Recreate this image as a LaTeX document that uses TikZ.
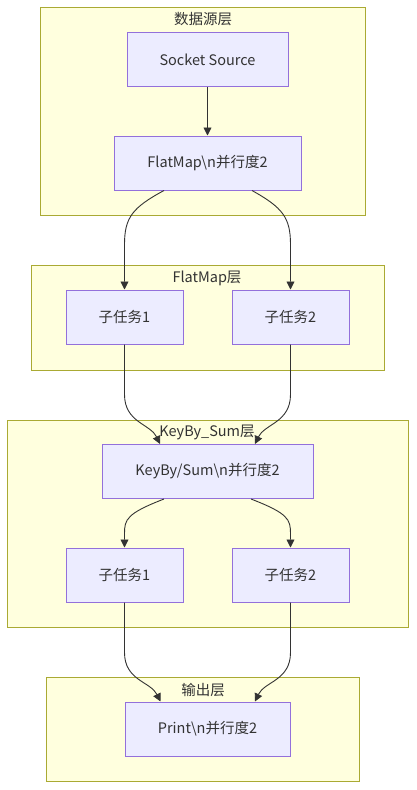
\documentclass[tikz,border=0pt]{standalone}
\usepackage{fontspec}
\setmainfont{Noto Sans CJK SC}
\usetikzlibrary{arrows.meta,calc}
\definecolor{clfill}{HTML}{FFFFDE}
\definecolor{clline}{HTML}{AAAA33}
\definecolor{ndfill}{HTML}{ECECFF}
\definecolor{ndline}{HTML}{9370DB}
\definecolor{txt}{HTML}{333333}
\tikzset{
  cluster/.style={draw=clline,fill=clfill,line width=1pt},
  cltitle/.style={text=txt,font=\fontsize{14.5}{17}\selectfont,inner sep=0pt},
  box/.style={draw=ndline,fill=ndfill,line width=1pt,text=txt,font=\fontsize{14.5}{17}\selectfont,inner sep=0pt,minimum height=54pt},
  conn/.style={draw=txt,line width=0.9pt,-{Triangle[length=8pt,width=8pt]}}
}
\begin{document}
\begin{tikzpicture}[x=1pt,y=-1pt]
\useasboundingbox (0,0) rectangle (416,790);
\fill[white] (0,0) rectangle (416,790);
% clusters
\draw[cluster] (40,7) rectangle (365,215);
\node[cltitle] (t1) at (203,19) {数据源层};
\draw[cluster] (31,265) rectangle (384,370);
\node[cltitle] (t2) at (207,278) {FlatMap层};
\draw[cluster] (7,420) rectangle (408,627);
\node[cltitle] (t3) at (207,432) {KeyBy\_Sum层};
\draw[cluster] (46,677) rectangle (359,781);
\node[cltitle] (t4) at (203,690) {输出层};
% nodes
\node[box,minimum width=161pt] (src) at (207.5,59.5) {Socket Source};
\node[box,minimum width=187pt] (fm) at (207.5,163) {FlatMap\textbackslash n并行度2};
\node[box,minimum width=117pt] (a) at (124.5,317) {子任务1};
\node[box,minimum width=117pt] (b) at (290.5,317) {子任务2};
\node[box,minimum width=211pt] (kb) at (207.5,471.5) {KeyBy/Sum\textbackslash n并行度2};
\node[box,minimum width=117pt] (c) at (124.5,575) {子任务1};
\node[box,minimum width=117pt] (d) at (290.5,575) {子任务2};
\node[box,minimum width=165pt] (pr) at (207.5,729) {Print\textbackslash n并行度2};
% connectors
\draw[conn] (src) -- (fm);
\draw[conn] ($(fm.south)+(-43.5,0)$) .. controls ($(a.north)+(8,-82)$) and ($(a.north)+(0,-72)$) .. ($(a.north)+(0,-45)$) -- (a.north);
\draw[conn] ($(fm.south)+(44.5,0)$) .. controls ($(b.north)+(-8,-82)$) and ($(b.north)+(0,-72)$) .. ($(b.north)+(0,-45)$) -- (b.north);
\draw[conn] (a.south) -- ($(a.south)+(0,50)$) .. controls ($(a.south)+(0,78)$) and ($(kb.north)+(-57,-20)$) .. ($(kb.north)+(-47.5,0)$);
\draw[conn] (b.south) -- ($(b.south)+(0,50)$) .. controls ($(b.south)+(0,78)$) and ($(kb.north)+(57,-20)$) .. ($(kb.north)+(47.5,0)$);
\draw[conn] ($(kb.south)+(-43.5,0)$) .. controls ($(c.north)+(2,-34)$) and ($(c.north)+(0,-28)$) .. ($(c.north)+(0,-14)$) -- (c.north);
\draw[conn] ($(kb.south)+(43.5,0)$) .. controls ($(d.north)+(-2,-34)$) and ($(d.north)+(0,-28)$) .. ($(d.north)+(0,-14)$) -- (d.north);
\draw[conn] (c.south) -- ($(c.south)+(0,50)$) .. controls ($(c.south)+(0,78)$) and ($(pr.north)+(-57,-20)$) .. ($(pr.north)+(-47,0)$);
\draw[conn] (d.south) -- ($(d.south)+(0,50)$) .. controls ($(d.south)+(0,78)$) and ($(pr.north)+(57,-20)$) .. ($(pr.north)+(47.5,0)$);
\end{tikzpicture}
\end{document}
